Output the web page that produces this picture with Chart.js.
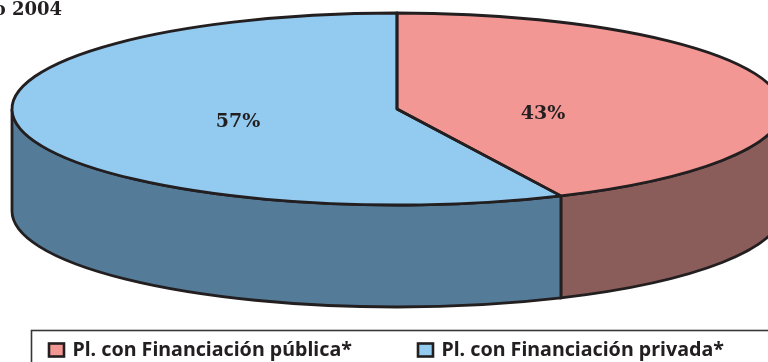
<!DOCTYPE html>
<html>
<head>
<meta charset="utf-8">
<style>
html, body { margin: 0; padding: 0; background: #fff; overflow: hidden; }
</style>
<script src="https://cdn.jsdelivr.net/npm/chart.js@4/dist/chart.umd.min.js"></script>
</head>
<body>
<canvas id="myChart" width="768" height="362"></canvas>
<script>
var categories = ['Pl. con Financiación pública*', 'Pl. con Financiación privada*'];
var shares = [43, 57];
var shareLabels = ['43%', '57%'];
var caption = 'o 2004';

var topColors = ['#F39794', '#93CAEF'];
var sideColors = ['#8A5D5A', '#547C99'];
var inkColor = '#231F20';

// the pie is drawn flat by the library and squashed into an ellipse here
var tilt = { cx: 397, cy: 109, rx: 385, ry: 96, depth: 102 };
var labelSpots = [[543, 114], [238, 122]];
var legendSpots = [49, 418];

function wallPath(ctx, a0, a1) {
	ctx.beginPath();
	ctx.ellipse(tilt.cx, tilt.cy, tilt.rx, tilt.ry, 0, a0, a1);
	ctx.ellipse(tilt.cx, tilt.cy + tilt.depth, tilt.rx, tilt.ry, 0, a1, a0, true);
	ctx.closePath();
}

var tiltedPie = {
	id: 'tiltedPie',
	beforeDatasetsDraw: function(chart) {
		var ctx = chart.ctx;
		var arcs = chart.getDatasetMeta(0).data;
		// side walls, only the front half of the rim shows
		for (var i = 0; i < arcs.length; i++) {
			var a0 = Math.max(arcs[i].startAngle, 0);
			var a1 = Math.min(arcs[i].endAngle, Math.PI);
			if (a1 <= a0) continue;
			ctx.save();
			wallPath(ctx, a0, a1);
			ctx.fillStyle = sideColors[i];
			ctx.fill();
			ctx.lineWidth = 2.8;
			ctx.strokeStyle = inkColor;
			ctx.stroke();
			ctx.restore();
		}
		var first = arcs[0];
		ctx.save();
		ctx.translate(tilt.cx, tilt.cy);
		ctx.scale(tilt.rx / first.outerRadius, tilt.ry / first.outerRadius);
		ctx.translate(-first.x, -first.y);
	},
	afterDatasetsDraw: function(chart) {
		var ctx = chart.ctx;
		var arcs = chart.getDatasetMeta(0).data;
		ctx.restore();
		// outlines go on after the restore so the line width stays even
		ctx.save();
		ctx.lineWidth = 2.8;
		ctx.strokeStyle = inkColor;
		ctx.lineJoin = 'round';
		for (var i = 0; i < arcs.length; i++) {
			ctx.beginPath();
			ctx.moveTo(tilt.cx, tilt.cy);
			ctx.ellipse(tilt.cx, tilt.cy, tilt.rx, tilt.ry, 0, arcs[i].startAngle, arcs[i].endAngle);
			ctx.closePath();
			ctx.stroke();
		}
		ctx.fillStyle = inkColor;
		ctx.textBaseline = 'middle';
		ctx.textAlign = 'center';
		ctx.font = 'bold 19px "DejaVu Serif"';
		for (var j = 0; j < shareLabels.length; j++) {
			ctx.fillText(shareLabels[j], labelSpots[j][0], labelSpots[j][1]);
		}
		ctx.textAlign = 'right';
		ctx.font = 'bold 18px "DejaVu Serif"';
		ctx.fillText(caption, 62, 10);
		ctx.restore();
	},
	afterDraw: function(chart) {
		var ctx = chart.ctx;
		ctx.save();
		ctx.lineWidth = 1.6;
		ctx.strokeStyle = '#3A3637';
		ctx.strokeRect(31.5, 330.5, 800, 100);
		// legend is placed by hand, the built in one wraps at this spacing
		ctx.textBaseline = 'alphabetic';
		ctx.textAlign = 'left';
		ctx.font = 'bold 19.7px "Noto Sans"';
		for (var i = 0; i < categories.length; i++) {
			ctx.fillStyle = topColors[i];
			ctx.strokeStyle = inkColor;
			ctx.lineWidth = 2.6;
			ctx.fillRect(legendSpots[i], 343.5, 15, 13);
			ctx.strokeRect(legendSpots[i], 343.5, 15, 13);
			ctx.fillStyle = inkColor;
			ctx.fillText(categories[i], legendSpots[i] + 23.5, 356);
		}
		ctx.restore();
	}
};

var myChart = new Chart(document.getElementById('myChart').getContext('2d'), {
	type: 'pie',
	data: {
		labels: categories,
		datasets: [{
			data: shares,
			backgroundColor: topColors,
			borderWidth: 0,
			clip: false
		}]
	},
	options: {
		responsive: false,
		animation: false,
		plugins: {
			tooltip: { enabled: false },
			legend: { display: false }
		}
	},
	plugins: [tiltedPie]
});
</script>
</body>
</html>
